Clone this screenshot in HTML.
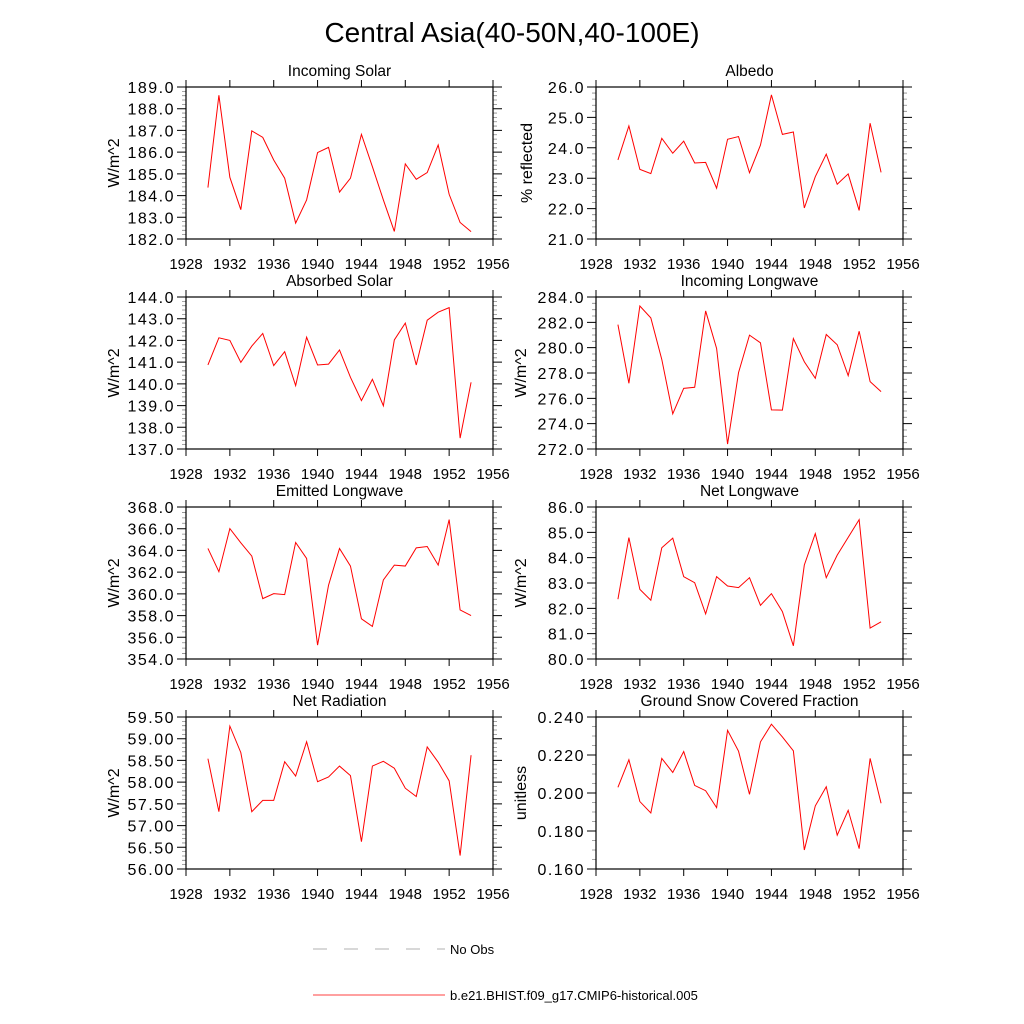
<!DOCTYPE html>
<html><head><meta charset="utf-8">
<style>
html,body{margin:0;padding:0;background:#fff;}
svg{display:block;font-family:"Liberation Sans",Arial,sans-serif;}
</style></head>
<body>
<svg id="chart" width="1024" height="1024" viewBox="0 0 1024 1024">
<text x="512" y="42" text-anchor="middle" font-size="28">Central Asia(40-50N,40-100E)</text>
<g>
<line x1="313" y1="949" x2="445" y2="949" stroke="#666" stroke-width="0.6" stroke-dasharray="14,17"/>
<text x="450" y="954" font-size="13">No Obs</text>
<line x1="313" y1="995" x2="445" y2="995" stroke="#f00" stroke-width="0.8"/>
<text x="450" y="1000" font-size="13">b.e21.BHIST.f09_g17.CMIP6-historical.005</text>
</g>
</svg>
<script>
const years = [1930,1931,1932,1933,1934,1935,1936,1937,1938,1939,1940,1941,1942,1943,1944,1945,1946,1947,1948,1949,1950,1951,1952,1953,1954];
const xTicks = [1928,1932,1936,1940,1944,1948,1952,1956];
const incomingSolar = [184.37,188.62,184.84,183.35,186.98,186.68,185.64,184.8,182.73,183.8,185.98,186.22,184.16,184.8,186.82,185.33,183.8,182.35,185.46,184.75,185.06,186.33,184.06,182.76,182.34];
const albedo = [23.6,24.72,23.29,23.15,24.31,23.82,24.22,23.5,23.52,22.67,24.28,24.37,23.18,24.09,25.74,24.44,24.52,22.02,23.05,23.79,22.8,23.14,21.94,24.81,23.19];
const absorbedSolar = [140.87,142.12,142.0,140.99,141.74,142.32,140.84,141.48,139.92,142.15,140.87,140.91,141.56,140.3,139.23,140.21,138.99,142.02,142.8,140.87,142.93,143.3,143.51,137.5,140.07];
const incomingLongwave = [281.82,277.19,283.29,282.35,279.07,274.78,276.79,276.87,282.9,279.94,272.39,278.03,280.99,280.38,275.09,275.07,280.72,278.89,277.58,281.04,280.23,277.79,281.3,277.32,276.53];
const emittedLongwave = [364.18,362.04,366.01,364.7,363.48,359.56,360.02,359.93,364.73,363.26,355.28,360.79,364.18,362.56,357.7,357.0,361.28,362.65,362.56,364.24,364.36,362.65,366.84,358.52,358.0];
const netLongwave = [82.36,84.79,82.75,82.32,84.39,84.77,83.25,83.01,81.78,83.25,82.88,82.82,83.21,82.12,82.58,81.87,80.52,83.71,84.95,83.21,84.1,84.8,85.5,81.22,81.47];
const netRadiation = [58.54,57.32,59.29,58.68,57.32,57.58,57.58,58.47,58.14,58.93,58.01,58.12,58.37,58.15,56.63,58.37,58.48,58.32,57.86,57.67,58.81,58.46,58.03,56.31,58.62];
const snowFraction = [0.203,0.2175,0.1955,0.1895,0.2182,0.2108,0.2218,0.204,0.2012,0.1923,0.233,0.222,0.1993,0.2269,0.2362,0.2295,0.2222,0.17,0.1932,0.2033,0.1778,0.1909,0.1707,0.2182,0.1946];
const ticksIS = [182,183,184,185,186,187,188,189];
const ticksAlb = [21,22,23,24,25,26];
const ticksAS = [137,138,139,140,141,142,143,144];
const ticksIL = [272,274,276,278,280,282,284];
const ticksEL = [354,356,358,360,362,364,366,368];
const ticksNL = [80,81,82,83,84,85,86];
const ticksNR = [56,56.5,57,57.5,58,58.5,59,59.5];
const ticksSN = [0.16,0.18,0.2,0.22,0.24];

const panels = [
 {name:'incoming-solar',title:'Incoming Solar',yl:'W/m^2',data:incomingSolar,ticks:ticksIS,dec:1,minor:5,col:0,row:0},
 {name:'albedo',title:'Albedo',yl:'% reflected',data:albedo,ticks:ticksAlb,dec:1,minor:5,col:1,row:0},
 {name:'absorbed-solar',title:'Absorbed Solar',yl:'W/m^2',data:absorbedSolar,ticks:ticksAS,dec:1,minor:5,col:0,row:1},
 {name:'incoming-longwave',title:'Incoming Longwave',yl:'W/m^2',data:incomingLongwave,ticks:ticksIL,dec:1,minor:4,col:1,row:1},
 {name:'emitted-longwave',title:'Emitted Longwave',yl:'W/m^2',data:emittedLongwave,ticks:ticksEL,dec:1,minor:4,col:0,row:2},
 {name:'net-longwave',title:'Net Longwave',yl:'W/m^2',data:netLongwave,ticks:ticksNL,dec:1,minor:5,col:1,row:2},
 {name:'net-radiation',title:'Net Radiation',yl:'W/m^2',data:netRadiation,ticks:ticksNR,dec:2,minor:5,col:0,row:3},
 {name:'snow-fraction',title:'Ground Snow Covered Fraction',yl:'unitless',data:snowFraction,ticks:ticksSN,dec:3,minor:4,col:1,row:3}
];
const NS='http://www.w3.org/2000/svg';
const svg=document.getElementById('chart');
function mk(tag,attrs,parent){const e=document.createElementNS(NS,tag);for(const k in attrs)e.setAttribute(k,attrs[k]);parent.appendChild(e);return e;}
const colX=[186,596], rowY=[87,297,507,717], W=307, H=152;
const ylX=[119,532];
panels.forEach(p=>{
 const L=colX[p.col], T=rowY[p.row], R=L+W, B=T+H;
 const g=mk('g',{},svg);
 
 
 const x=v=>L+(v-1928)/(1956-1928)*W;
 const y0=p.ticks[0], y1=p.ticks[p.ticks.length-1];
 const y=v=>B-(v-y0)/(y1-y0)*H;
 const t=mk('text',{x:(L+R)/2,y:T-11,'text-anchor':'middle','font-size':15.5},g);
 t.textContent=p.title;
 
 
 const yl=mk('text',{x:0,y:0,'text-anchor':'middle','font-size':16,transform:`translate(${ylX[p.col]+(p.yl==='W/m^2'&&p.col===1?-6:0)+(p.yl==='unitless'?-6:0)},${(T+B)/2}) rotate(-90)`},g);
 yl.textContent=p.yl;
 
 
 let d='';
 xTicks.forEach(v=>{const xx=x(v);d+=`M${xx},${B}v7M${xx},${T}v-7`;
  const tl=mk('text',{x:xx,y:B+30,'text-anchor':'middle','font-size':15},g);tl.textContent=v;
  
  });
 let dm='';
 p.ticks.forEach((v,i)=>{const yy=y(v);d+=`M${L},${yy}h-9M${R},${yy}h9`;
  const tl=mk('text',{x:L-11,y:yy+6,'text-anchor':'end','font-size':16,'letter-spacing':1.5},g);tl.textContent=v.toFixed(p.dec);
  
  
  if(i<p.ticks.length-1){const step=(p.ticks[i+1]-v)/p.minor;for(let k=1;k<p.minor;k++){const ym=y(v+step*k);dm+=`M${L},${ym}h-4M${R},${ym}h4`;}}});
 const tk=mk('path',{d:d,stroke:'#000','stroke-width':1,fill:'none'},g);
 
 
 const mt=mk('path',{d:dm,stroke:'#888','stroke-width':0.8,fill:'none'},g);
 
 
 const box=mk('rect',{x:L,y:T,width:W,height:H,fill:'none',stroke:'#000','stroke-width':1.2},g);
 
 
 const pts=years.map((yr,i)=>x(yr).toFixed(2)+','+y(p.data[i]).toFixed(2)).join(' ');
 const ln=mk('polyline',{points:pts,fill:'none',stroke:'#f00','stroke-width':1},g);
 
 
});
</script>
</body></html>
